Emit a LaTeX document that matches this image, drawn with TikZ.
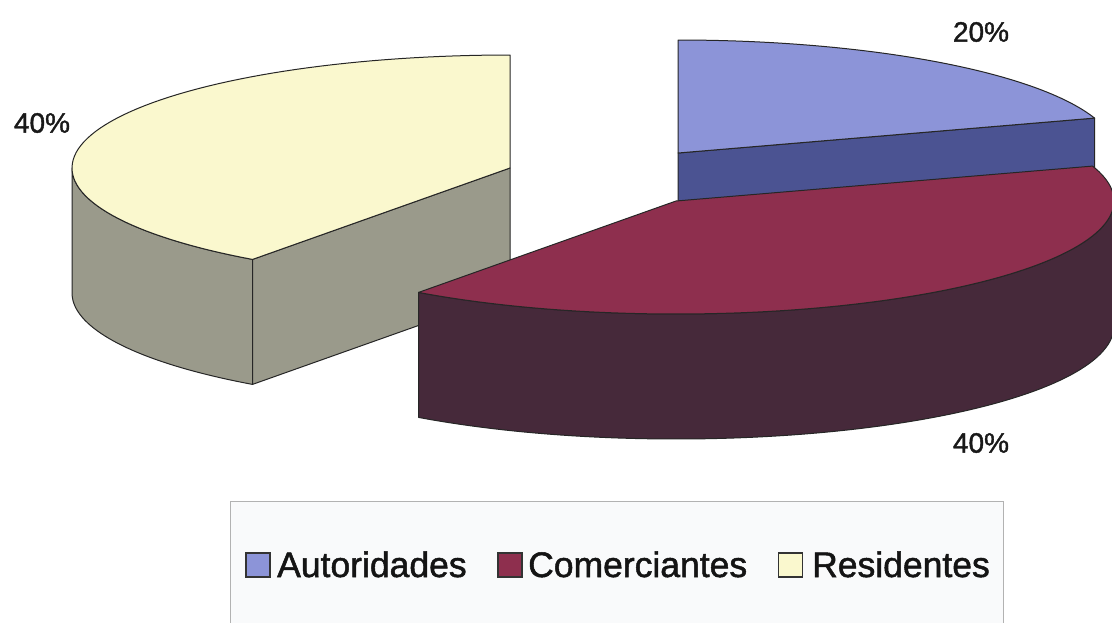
\documentclass[tikz,border=0pt]{standalone}
\usepackage{fontspec}
\setmainfont[FakeBold=1.2]{Liberation Sans}
\newfontfamily\chartfont[FakeBold=1.4]{Liberation Sans}
\definecolor{blueTop}{HTML}{8C94D8}
\definecolor{blueSide}{HTML}{4B5392}
\definecolor{redTop}{HTML}{8E2F4E}
\definecolor{redSide}{HTML}{46293A}
\definecolor{yelTop}{HTML}{FAF8CE}
\definecolor{yelSide}{HTML}{9A9A8B}
\definecolor{legBg}{HTML}{F9FAFB}
\begin{document}
\begin{tikzpicture}[x=1pt,y=-1pt,
  edge/.style={draw=black!85, line width=1pt, line join=round},
  pct/.style={font=\chartfont\fontsize{28}{30}\selectfont, text=black!90, inner sep=0pt},
  leg/.style={font=\chartfont\fontsize{35.5}{38}\selectfont, anchor=base west, inner sep=0pt, text=black!92},
  swatch/.style={line width=1.5pt, minimum size=24pt, inner sep=0pt, draw=black!80}]
\useasboundingbox (0,0) rectangle (1112,622);
\fill[white] (0,0) rectangle (1112,622);

% ---------- Residentes (yellow) ----------
\fill[yelSide, edge] plot[domain=180:234,samples=40] ({510+438*cos(\x)},{168-113*sin(\x)})
  -- plot[domain=234:180,samples=40] ({510+438*cos(\x)},{293-113*sin(\x)}) -- cycle;
\fill[yelSide, edge] (510,168) -- (252.5,259.4) -- (252.5,384.4) -- (510,293) -- cycle;
\fill[yelTop, edge] (510,168) -- (510,55)
  -- plot[domain=90:234,samples=80] ({510+438*cos(\x)},{168-113*sin(\x)}) -- cycle;

% ---------- Autoridades (blue) ----------
\fill[blueSide, edge] (678,153) -- (1094.6,118.1) -- (1094.6,243.1) -- (678,278) -- cycle;
\fill[blueTop, edge] (678,153)
  -- plot[domain=18:90,samples=60] ({678+438*cos(\x)},{153-113*sin(\x)}) -- cycle;

% ---------- Comerciantes (red) ----------
\fill[redSide, edge] plot[domain=-126:0,samples=80] ({676+438*cos(\x)},{201-113*sin(\x)})
  -- plot[domain=0:-126,samples=80] ({676+438*cos(\x)},{326-113*sin(\x)}) -- cycle;
\fill[redTop, edge] (676,201)
  -- plot[domain=-126:18,samples=100] ({676+438*cos(\x)},{201-113*sin(\x)}) -- cycle;

% ---------- percentage labels ----------
\node[pct] (p1) at (981,32) {20\%};
\node[pct] (p2) at (42,123) {40\%};
\node[pct] (p3) at (981,443) {40\%};

% ---------- legend ----------
\draw[draw=gray!60, fill=legBg, line width=1pt] (230,630) -- (230,501) -- (1003,501) -- (1003,630);
\node[swatch, fill=blueTop] (s1) at (258,565) {};
\node[leg] (t1) at (277,577) {Autoridades};
\node[swatch, fill=redTop] (s2) at (510,565) {};
\node[leg] (t2) at (528,577) {Comerciantes};
\node[swatch, fill=yelTop] (s3) at (790.5,565) {};
\node[leg] (t3) at (812,577) {Residentes};
\end{tikzpicture}
\end{document}
